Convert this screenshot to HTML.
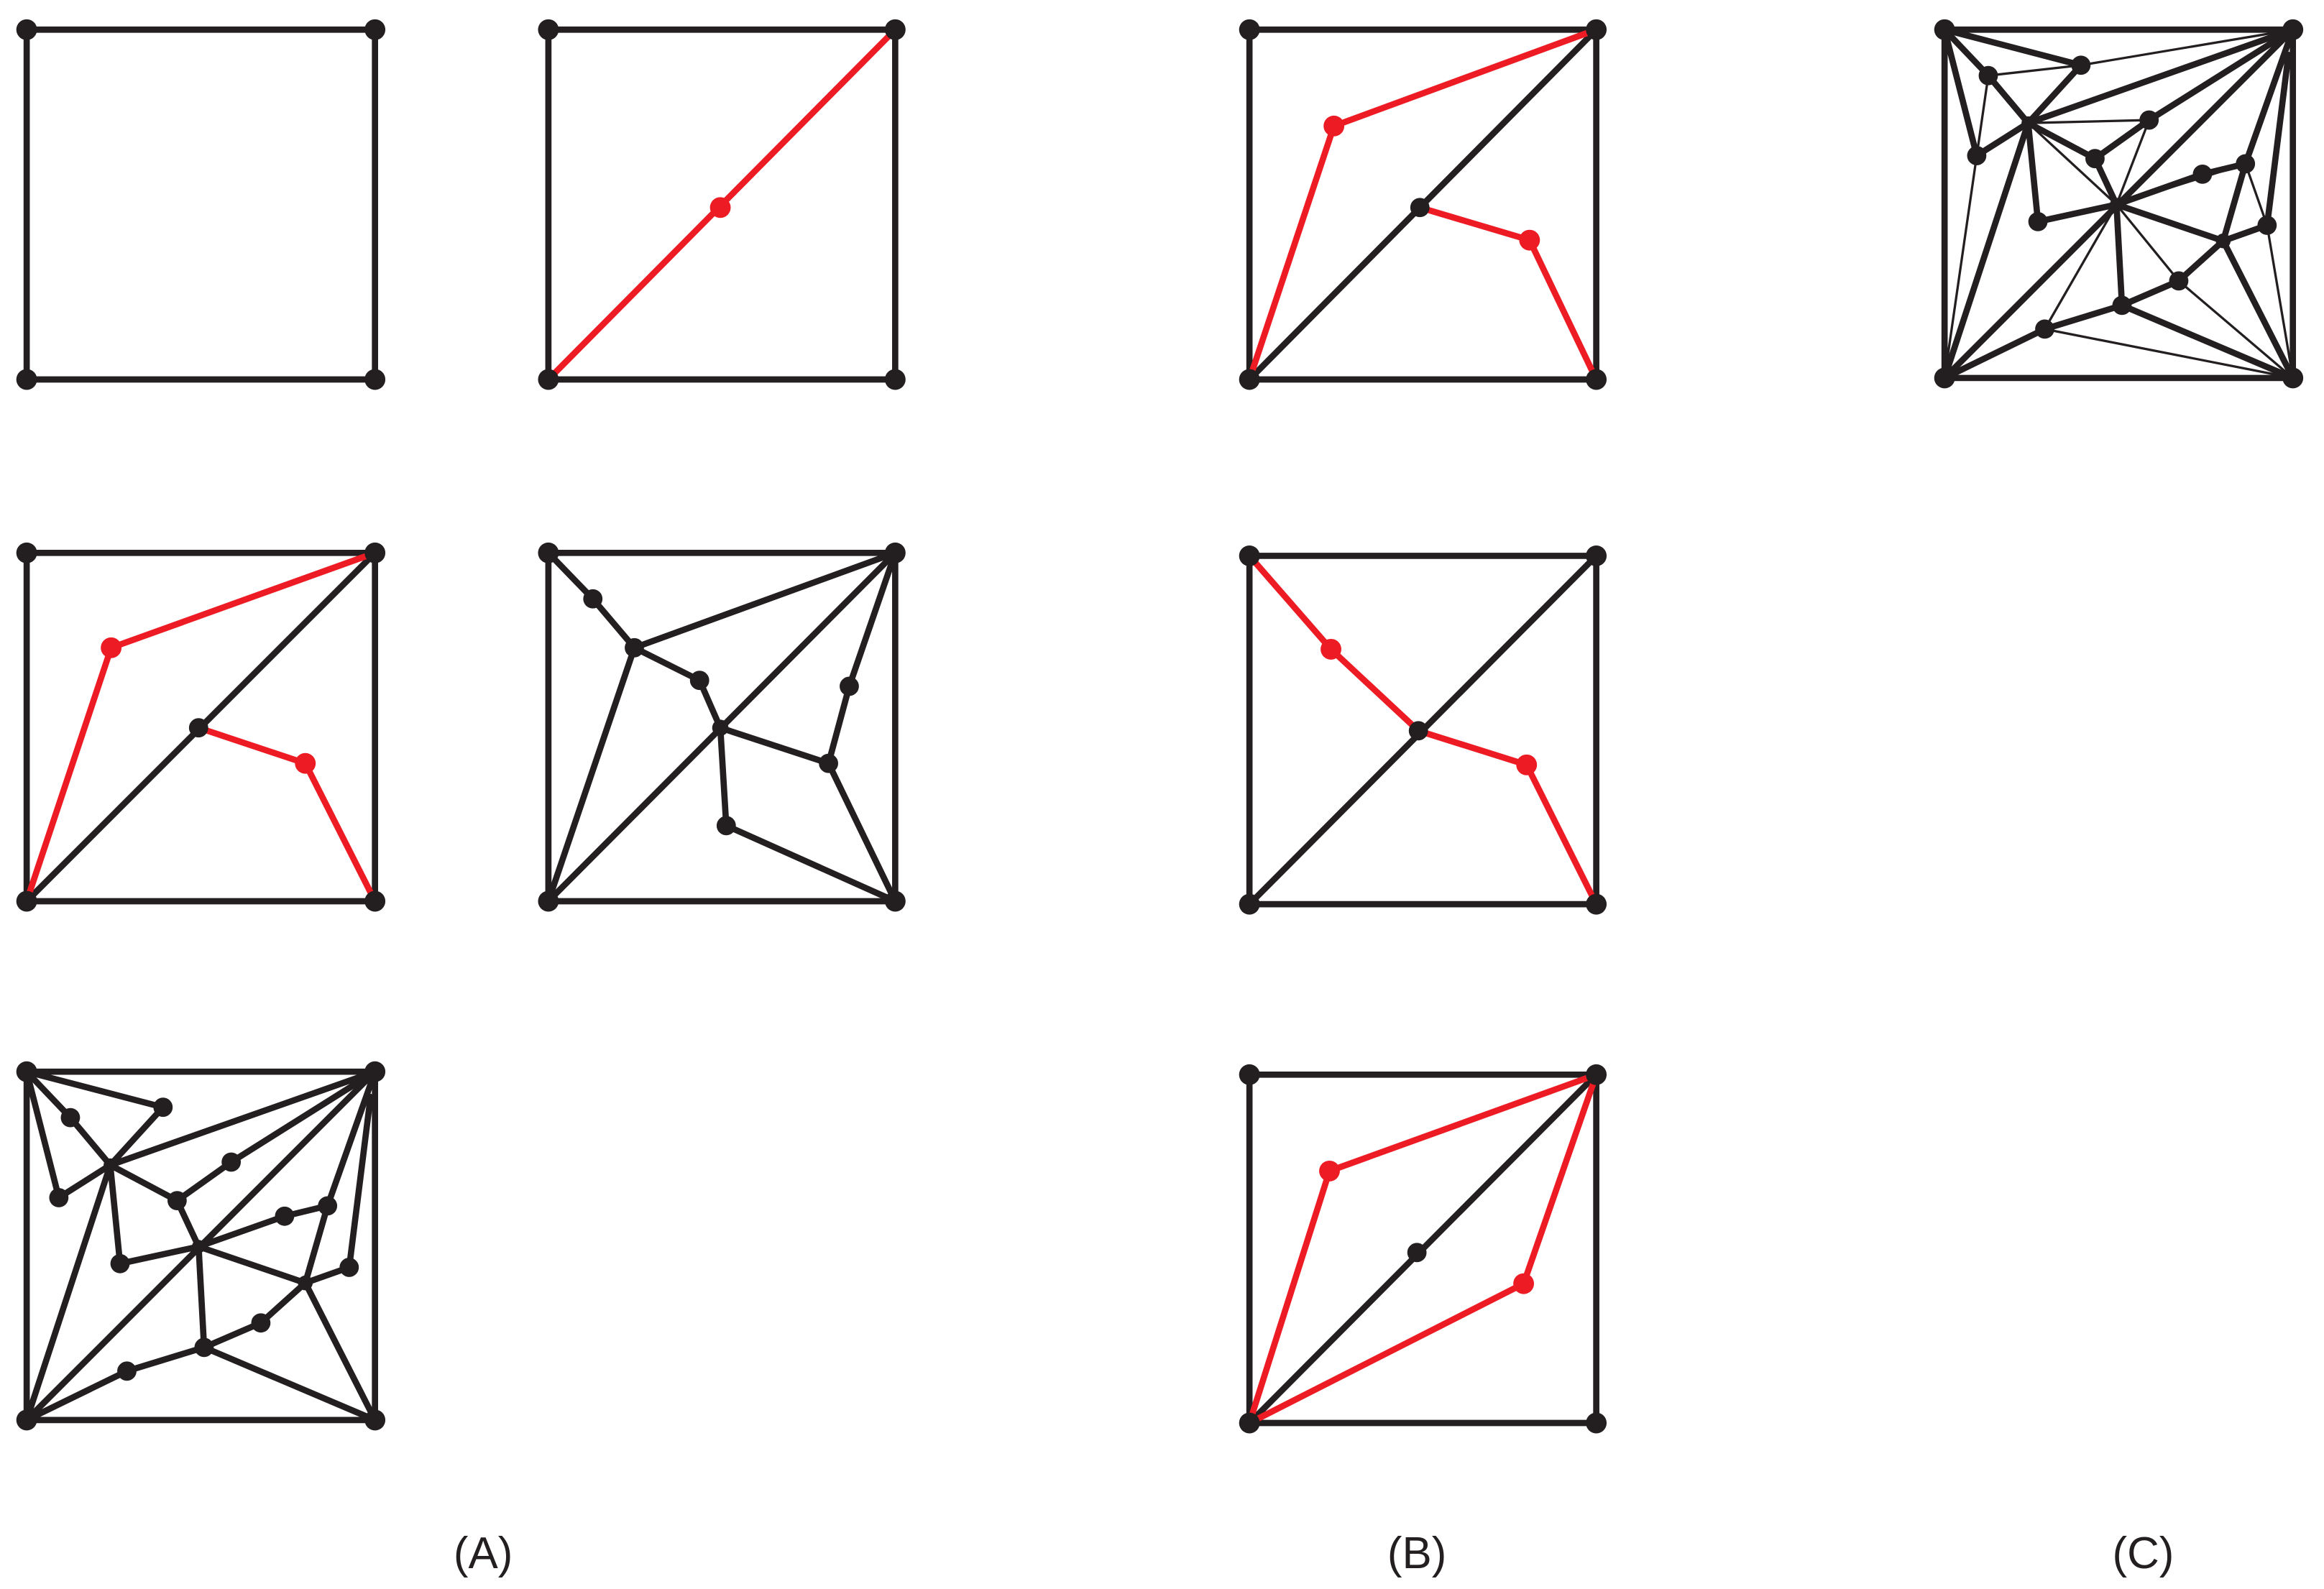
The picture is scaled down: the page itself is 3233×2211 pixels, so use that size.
<!DOCTYPE html>
<html><head><meta charset="utf-8"><style>
html,body{margin:0;padding:0;background:#fff;}
svg{display:block;}
</style></head><body>
<svg width="3233" height="2211" viewBox="0 0 1568 1072" preserveAspectRatio="none" xmlns="http://www.w3.org/2000/svg">
<defs>
<g id="A3lines" stroke="#231f20" stroke-width="4.2" stroke-linecap="round" fill="none">
<polygon points="18,723 253,723 253,958 18,958"/>
<line x1="18" y1="723" x2="47.5" y2="754"/><line x1="47.5" y1="754" x2="74.4" y2="786"/>
<line x1="18" y1="723" x2="110" y2="747"/><line x1="110" y1="747" x2="74.4" y2="786"/>
<line x1="18" y1="723" x2="39.7" y2="808"/><line x1="39.7" y1="808" x2="74.4" y2="786"/>
<line x1="74.4" y1="786" x2="253" y2="723"/><line x1="74.4" y1="786" x2="18" y2="958"/>
<line x1="74.4" y1="786" x2="119.5" y2="810"/><line x1="119.5" y1="810" x2="156" y2="784"/>
<line x1="156" y1="784" x2="253" y2="723"/><line x1="119.5" y1="810" x2="134" y2="841"/>
<line x1="74.4" y1="786" x2="81" y2="852.5"/><line x1="81" y1="852.5" x2="134" y2="841"/>
<line x1="253" y1="723" x2="18" y2="958"/>
<line x1="134" y1="841" x2="192" y2="820.5"/><line x1="192" y1="820.5" x2="221" y2="813.5"/>
<line x1="221" y1="813.5" x2="253" y2="723"/><line x1="221" y1="813.5" x2="206" y2="865.5"/>
<line x1="134" y1="841" x2="206" y2="865.5"/>
<line x1="235.6" y1="855" x2="250" y2="740"/><line x1="235.6" y1="855" x2="206" y2="865.5"/>
<line x1="206" y1="865.5" x2="176" y2="892.5"/><line x1="176" y1="892.5" x2="137.7" y2="909"/>
<line x1="134" y1="841" x2="137.7" y2="909"/><line x1="137.7" y1="909" x2="85.6" y2="925"/>
<line x1="85.6" y1="925" x2="18" y2="958"/><line x1="137.7" y1="909" x2="253" y2="958"/>
<line x1="206" y1="865.5" x2="253" y2="958"/>
</g>
<g id="A3dots" fill="#231f20">
<circle cx="18" cy="723" r="7"/><circle cx="253" cy="723" r="7"/><circle cx="253" cy="958" r="7"/><circle cx="18" cy="958" r="7"/>
<circle cx="47.5" cy="754" r="6.5"/><circle cx="110" cy="747" r="6.5"/><circle cx="39.7" cy="808" r="6.5"/>
<circle cx="74.4" cy="786" r="4.5"/><circle cx="156" cy="784" r="6.5"/><circle cx="119.5" cy="810" r="6.5"/>
<circle cx="134" cy="841" r="4.5"/><circle cx="192" cy="820.5" r="6.5"/><circle cx="221" cy="813.5" r="6.5"/>
<circle cx="81" cy="852.5" r="6.5"/><circle cx="235.6" cy="855" r="6.5"/><circle cx="206" cy="865.5" r="5"/>
<circle cx="176" cy="892.5" r="6.5"/><circle cx="137.7" cy="909" r="6.5"/><circle cx="85.6" cy="925" r="6.5"/>
</g>
</defs>

<g stroke="#231f20" stroke-width="4.2" stroke-linecap="round" fill="none">
<polygon points="18,20 253,20 253,256 18,256"/>
<polygon points="370,20 604,20 604,256 370,256"/>
<polygon points="843,20 1077,20 1077,256 843,256"/>
<line x1="843" y1="256" x2="1077" y2="20"/>
<polygon points="18,373 253,373 253,608 18,608"/>
<line x1="18" y1="608" x2="253" y2="373"/>
<polygon points="370,373 604,373 604,608 370,608"/>
<line x1="370" y1="373" x2="400" y2="404"/><line x1="400" y1="404" x2="428" y2="437"/>
<line x1="428" y1="437" x2="604" y2="373"/><line x1="428" y1="437" x2="370" y2="608"/>
<line x1="428" y1="437" x2="472" y2="459"/><line x1="472" y1="459" x2="486" y2="491"/>
<line x1="370" y1="608" x2="604" y2="373"/>
<line x1="604" y1="373" x2="573" y2="463"/><line x1="573" y1="463" x2="559" y2="515"/>
<line x1="486" y1="491" x2="559" y2="515"/><line x1="559" y1="515" x2="604" y2="608"/>
<line x1="486" y1="491" x2="490" y2="557"/><line x1="490" y1="557" x2="604" y2="608"/>
<polygon points="843,375 1077,375 1077,610 843,610"/>
<line x1="843" y1="610" x2="1077" y2="375"/>
<polygon points="843,725 1077,725 1077,960 843,960"/>
<line x1="843" y1="960" x2="1077" y2="725"/>
</g>

<g stroke="#ed1c24" stroke-width="4.2" stroke-linecap="round" fill="none">
<line x1="370" y1="256" x2="604" y2="20"/>
<polyline points="843,256 900,85 1077,20"/><polyline points="958,140 1032,162 1077,256"/>
<polyline points="18,608 75,437 253,373"/><polyline points="134,491 206,515 253,608"/>
<polyline points="843,375 898,438 957,493"/><polyline points="957,493 1030,516 1077,610"/>
<polyline points="843,960 897,790 1077,725"/><polyline points="843,960 1028,866 1077,725"/>
</g>

<g fill="#231f20">
<circle cx="18" cy="20" r="7"/><circle cx="253" cy="20" r="7"/><circle cx="253" cy="256" r="7"/><circle cx="18" cy="256" r="7"/>
<circle cx="370" cy="20" r="7"/><circle cx="604" cy="20" r="7"/><circle cx="604" cy="256" r="7"/><circle cx="370" cy="256" r="7"/>
<circle cx="843" cy="20" r="7"/><circle cx="1077" cy="20" r="7"/><circle cx="1077" cy="256" r="7"/><circle cx="843" cy="256" r="7"/>
<circle cx="958" cy="140" r="6.5"/>
<circle cx="18" cy="373" r="7"/><circle cx="253" cy="373" r="7"/><circle cx="253" cy="608" r="7"/><circle cx="18" cy="608" r="7"/>
<circle cx="134" cy="491" r="6.5"/>
<circle cx="370" cy="373" r="7"/><circle cx="604" cy="373" r="7"/><circle cx="604" cy="608" r="7"/><circle cx="370" cy="608" r="7"/>
<circle cx="400" cy="404" r="6.5"/><circle cx="428" cy="437" r="6.5"/><circle cx="472" cy="459" r="6.5"/><circle cx="486" cy="491" r="5.5"/>
<circle cx="573" cy="463" r="6.5"/><circle cx="559" cy="515" r="6.5"/><circle cx="490" cy="557" r="6.5"/>
<circle cx="843" cy="375" r="7"/><circle cx="1077" cy="375" r="7"/><circle cx="1077" cy="610" r="7"/><circle cx="843" cy="610" r="7"/>
<circle cx="957" cy="493" r="6.5"/>
<circle cx="843" cy="725" r="7"/><circle cx="1077" cy="725" r="7"/><circle cx="1077" cy="960" r="7"/><circle cx="843" cy="960" r="7"/>
<circle cx="956" cy="845" r="6.5"/>
</g>
<g fill="#ed1c24">
<circle cx="486" cy="140" r="7"/>
<circle cx="900" cy="85" r="7"/><circle cx="1032" cy="162" r="7"/>
<circle cx="75" cy="437" r="7"/><circle cx="206" cy="515" r="7"/>
<circle cx="898" cy="438" r="7"/><circle cx="1030" cy="516" r="7"/>
<circle cx="897" cy="790" r="7"/><circle cx="1028" cy="866" r="7"/>
</g>

<use href="#A3lines"/><use href="#A3dots"/>

<g transform="translate(1294,-703)">
<use href="#A3lines"/>
<g stroke="#231f20" stroke-width="1.6" fill="none">
<line x1="47.5" y1="754" x2="110" y2="747"/>
<line x1="47.5" y1="754" x2="39.7" y2="808"/>
<line x1="110" y1="747" x2="253" y2="723"/>
<line x1="74.4" y1="786" x2="156" y2="784"/>
<line x1="74.4" y1="786" x2="134" y2="841"/>
<line x1="156" y1="784" x2="134" y2="841"/>
<line x1="39.7" y1="808" x2="18" y2="958"/>
<line x1="134" y1="841" x2="85.6" y2="925"/>
<line x1="134" y1="841" x2="221" y2="813.5"/>
<line x1="221" y1="813.5" x2="235.6" y2="855"/>
<line x1="134" y1="841" x2="176" y2="892.5"/>
<line x1="176" y1="892.5" x2="253" y2="958"/>
<line x1="85.6" y1="925" x2="253" y2="958"/>
<line x1="235.6" y1="855" x2="253" y2="958"/>
</g>
<use href="#A3dots"/>
</g>

<g font-family="'Liberation Sans', sans-serif" font-size="30" fill="#231f20" text-anchor="middle">
<text x="326" y="1058">(A)</text>
<text x="956" y="1058">(B)</text>
<text x="1446" y="1058">(C)</text>
</g>
</svg>
</body></html>
